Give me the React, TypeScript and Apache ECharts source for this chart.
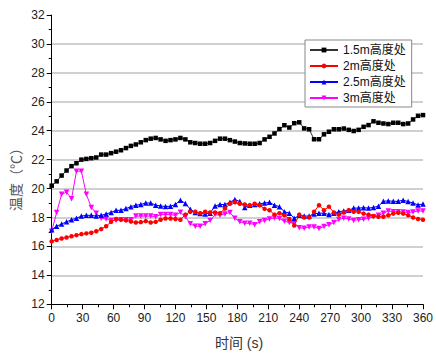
import React, { useEffect, useRef } from "react";
import * as echarts from "echarts";

// Temperature readings at four heights, sampled every 4.8 s over 0–360 s
const SAMPLE_STEP = 4.8;

const seriesNames = ["1.5m高度处", "2m高度处", "2.5m高度处", "3m高度处"];

const temp15 = [
  20.2, 20.5, 20.9, 21.25, 21.55, 21.75, 22.0, 22.05, 22.1, 22.15,
  22.35, 22.35, 22.45, 22.55, 22.65, 22.8, 22.95, 23.05, 23.2, 23.35,
  23.45, 23.5, 23.4, 23.3, 23.35, 23.4, 23.5, 23.4, 23.2, 23.15,
  23.1, 23.1, 23.15, 23.3, 23.45, 23.45, 23.35, 23.25, 23.15, 23.12,
  23.1, 23.1, 23.15, 23.4, 23.58, 23.81, 24.11, 24.38, 24.22, 24.52,
  24.58, 24.16, 24.1, 23.41, 23.41, 23.75, 23.93, 24.1, 24.1, 24.15,
  24.06, 23.98, 24.06, 24.27, 24.39, 24.65, 24.55, 24.5, 24.46, 24.55,
  24.55, 24.46, 24.5, 24.78, 25.03, 25.08,
];

const temp2 = [
  16.35, 16.45, 16.55, 16.62, 16.7, 16.78, 16.85, 16.9, 16.95, 17.05,
  17.2, 17.4, 17.7, 17.9, 17.85, 17.8, 17.72, 17.65, 17.68, 17.75,
  17.65, 17.7, 17.85, 17.93, 17.93, 17.9, 17.85, 18.2, 18.4, 18.4,
  18.3, 18.4, 18.35, 18.35, 18.3, 18.62, 18.95, 19.05, 18.95, 18.9,
  18.85, 18.95, 18.85, 18.6, 18.5, 18.2, 18.3, 18.15, 17.9, 17.45,
  18.2, 18.0, 18.0, 18.4, 18.85, 18.5, 18.75, 18.35, 18.2, 18.35,
  18.5, 18.4, 18.39, 18.27, 18.2, 18.1, 18.05, 18.05, 18.16, 18.27,
  18.33, 18.27, 18.16, 18.0, 17.9, 17.85,
];

const temp25 = [
  17.15, 17.4, 17.55, 17.7, 17.85, 17.95, 18.1, 18.15, 18.15, 18.1,
  18.15, 18.25, 18.35, 18.5, 18.5, 18.62, 18.75, 18.85, 18.9, 19.0,
  19.0, 18.85, 18.8, 18.76, 18.78, 18.9, 19.2, 18.97, 18.57, 18.34,
  18.27, 18.25, 18.3, 18.8, 18.9, 18.9, 19.05, 19.25, 19.1, 18.7,
  18.85, 18.9, 18.95, 19.0, 19.05, 18.85, 18.75, 18.4, 18.3, 17.95,
  18.15, 18.1, 18.1, 18.25, 18.3, 18.3, 18.2, 18.3, 18.4, 18.45,
  18.5, 18.65, 18.65, 18.68, 18.65, 18.7, 18.78, 19.12, 19.15, 19.12,
  19.12, 19.2, 19.1, 19.0, 18.87, 18.93,
];

const temp3 = [
  17.05, 18.35, 19.6, 19.75, 19.3, 21.2, 21.2, 19.6, 18.7, 18.3,
  17.95, 17.9, 17.8, 17.8, 17.85, 17.85, 17.85, 18.1, 18.1, 18.1,
  18.1, 18.05, 18.2, 18.2, 18.2, 18.15, 18.36, 18.05, 17.57, 17.39,
  17.4, 17.57, 17.8, 18.2, 18.15, 18.25, 18.35, 17.95, 17.7, 17.6,
  17.6, 17.5, 17.7, 17.8, 17.9, 17.97, 17.93, 17.75, 17.65, 17.6,
  17.3, 17.25, 17.35, 17.35, 17.24, 17.38, 17.5, 17.65, 17.87, 17.95,
  17.9, 17.8, 17.85, 17.88, 17.95, 18.05, 18.15, 18.3, 18.45, 18.4,
  18.4, 18.38, 18.35, 18.38, 18.45, 18.45,
];

const seriesValues = [temp15, temp2, temp25, temp3];
const seriesColors = ["#000000", "#ff0000", "#0000ff", "#ff00ff"];
const lineColors = ["#333333", "#ff0000", "#0000ff", "#ff00ff"];
const seriesSymbols = [
  "rect",
  "circle",
  "triangle",
  "path://M0,0 L10,0 L5,8.66 Z",
];
const symbolSizes = [4.5, 4.5, 5.5, 5.5];

const xAxisTitle = "时间 (s)";
const yAxisTitle = "温度（℃）";

const FONT = "'Liberation Sans', Arial, 'Noto Sans CJK SC', sans-serif";

export default function App() {
  const ref = useRef<HTMLDivElement>(null);

  useEffect(() => {
    if (!ref.current) return;
    const chart = echarts.init(ref.current, undefined, { renderer: "svg" });

    const series = seriesNames.map((name, k) => ({
      name,
      type: "line",
      data: seriesValues[k].map((v, i) => [i * SAMPLE_STEP, v]),
      symbol: seriesSymbols[k],
      symbolSize: symbolSizes[k],
      showAllSymbol: true,
      lineStyle: { color: lineColors[k], width: 1 },
      itemStyle: { color: seriesColors[k] },
      emphasis: { disabled: true },
      z: 10 - k,
    }));

    chart.setOption({
      animation: false,
      backgroundColor: "#ffffff",
      textStyle: { fontFamily: FONT },
      grid: { left: 51.7, right: 9.3, top: 15, bottom: 50.7, containLabel: false },
      xAxis: {
        type: "value",
        min: 0,
        max: 360,
        interval: 30,
        axisLine: { show: true, onZero: false, lineStyle: { color: "#000", width: 1 } },
        axisTick: { show: true, inside: false, length: 5, lineStyle: { color: "#000" } },
        minorTick: { show: true, splitNumber: 2, length: 3, lineStyle: { color: "#000" } },
        splitLine: { show: false },
        axisLabel: { color: "#222", fontSize: 12, margin: 8, fontFamily: FONT },
      },
      yAxis: {
        type: "value",
        min: 12,
        max: 32,
        interval: 2,
        axisLine: { show: true, onZero: false, lineStyle: { color: "#000", width: 1 } },
        axisTick: { show: true, inside: false, length: 5, lineStyle: { color: "#000" } },
        minorTick: { show: true, splitNumber: 2, length: 3, lineStyle: { color: "#000" } },
        splitLine: {
          show: true,
          showMinLine: false,
          showMaxLine: false,
          lineStyle: { color: "#c0c0c0", width: 1.5 },
        },
        axisLabel: { color: "#222", fontSize: 12, margin: 7, fontFamily: FONT },
      },
      legend: {
        orient: "vertical",
        left: 305,
        top: 40,
        data: seriesNames,
        itemWidth: 28,
        itemHeight: 6,
        itemGap: 4,
        padding: [4, 6, 3, 4],
        backgroundColor: "#ffffff",
        borderColor: "#888888",
        borderWidth: 1,
        borderRadius: 0,
        textStyle: { color: "#111", fontSize: 12, fontFamily: FONT },
      },
      graphic: [
        {
          type: "text",
          x: 16,
          y: 176,
          rotation: Math.PI / 2,
          style: {
            text: yAxisTitle,
            fill: "#555",
            fontSize: 14,
            fontFamily: FONT,
            align: "center",
            verticalAlign: "middle",
          },
        },
        {
          type: "text",
          x: 239,
          y: 343,
          style: {
            text: xAxisTitle,
            fill: "#333",
            fontSize: 14,
            fontFamily: FONT,
            align: "center",
            verticalAlign: "middle",
          },
        },
      ],
      series,
    });

    return () => chart.dispose();
  }, []);

  return (
    <div
      ref={ref}
      style={{ position: "fixed", left: 0, top: 0, width: 436, height: 355 }}
    />
  );
}
